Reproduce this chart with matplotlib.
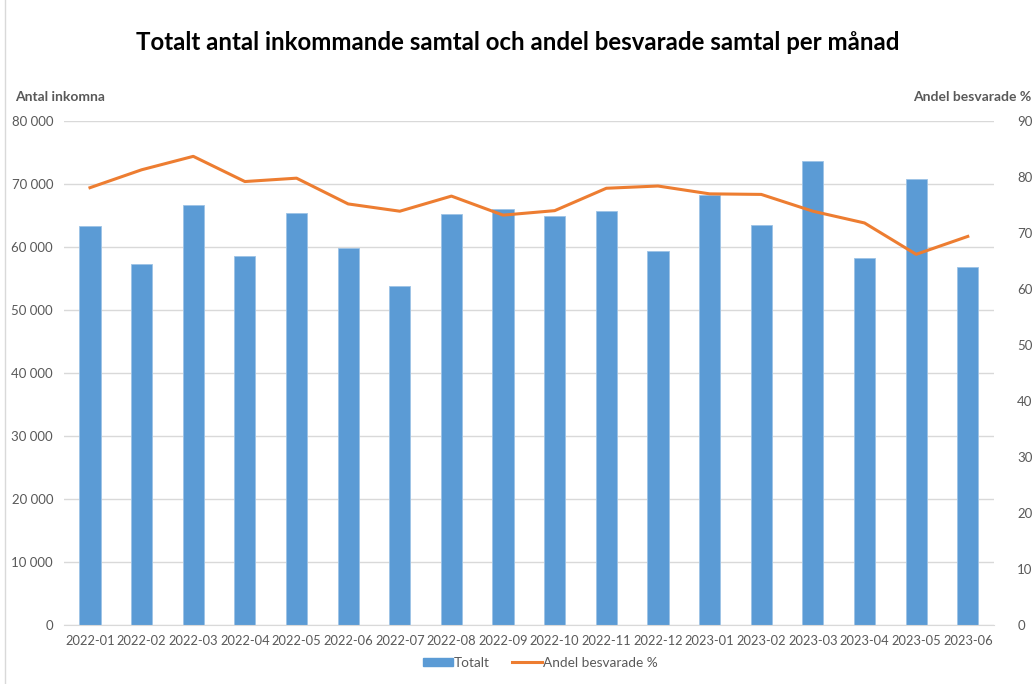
import numpy as np
import matplotlib.pyplot as plt
from matplotlib.ticker import FuncFormatter
from matplotlib.lines import Line2D

plt.rcParams['font.family'] = ['Lato', 'DejaVu Sans']

months = ['2022-01', '2022-02', '2022-03', '2022-04', '2022-05', '2022-06',
          '2022-07', '2022-08', '2022-09', '2022-10', '2022-11', '2022-12',
          '2023-01', '2023-02', '2023-03', '2023-04', '2023-05', '2023-06']
totalt = [63400, 57350, 66600, 58500, 65450, 59850, 53850, 65200, 66050,
          64950, 65700, 59400, 68300, 63450, 73600, 58200, 70800, 56800]
andel = [78.1, 81.3, 83.7, 79.2, 79.8, 75.2, 73.9, 76.6, 73.2,
         74.0, 78.0, 78.4, 77.0, 76.9, 73.9, 71.8, 66.2, 69.4]

blue = '#5B9BD5'
orange = '#ED7D31'
grey = '#595959'

fig = plt.figure(figsize=(10.35, 6.84), dpi=100)
ax = fig.add_axes([0.062, 0.0863, 0.898, 0.7367])
ax2 = ax.twinx()

x = np.arange(len(months))
ax.bar(x, totalt, width=0.41, color=blue, edgecolor='#9DC3E6', linewidth=0.6, zorder=2)
ax2.plot(x, andel, color=orange, linewidth=2.2, zorder=3)

ax.set_xlim(-0.5, len(months) - 0.5)
ax.set_ylim(0, 80000)
ax.set_yticks(np.arange(0, 80001, 10000))
ax.yaxis.set_major_formatter(FuncFormatter(lambda v, p: f'{int(v):,}'.replace(',', ' ')))
ax2.set_ylim(0, 90)
ax2.set_yticks(np.arange(0, 91, 10))

ax.grid(axis='y', color='#D9D9D9', linewidth=1, zorder=0)
ax.set_axisbelow(True)
for a in (ax, ax2):
    for s in a.spines.values():
        s.set_visible(False)
ax.spines['bottom'].set_visible(True)
ax.spines['bottom'].set_color('#D9D9D9')

ax.set_xticks(x)
ax.set_xticklabels(months)
ax.tick_params(axis='x', length=0, labelsize=9.3, labelcolor=grey, pad=7)
ax.tick_params(axis='y', length=0, labelsize=9.5, labelcolor=grey, pad=8)
ax2.tick_params(axis='y', length=0, labelsize=9.5, labelcolor=grey, pad=17)

fig.text(0.5, 0.938, 'Totalt antal inkommande samtal och andel besvarade samtal per månad',
         ha='center', va='center', fontsize=17.3, fontweight='bold', color='black')
fig.text(0.015, 0.858, 'Antal inkomna', ha='left', va='center', fontsize=10,
         fontweight='bold', color=grey)
fig.text(0.996, 0.858, 'Andel besvarade %', ha='right', va='center', fontsize=10,
         fontweight='bold', color=grey)

handles = [plt.Rectangle((0, 0), 1, 1, color=blue),
           Line2D([0], [0], color=orange, linewidth=2.2)]
fig.legend(handles, ['Totalt', 'Andel besvarade %'], loc='center', ncol=2,
           bbox_to_anchor=(0.522, 0.031), frameon=False, fontsize=9.8,
           labelcolor=grey, handlelength=2.2, handleheight=0.6,
           handletextpad=0.1, columnspacing=1.6)

fig.add_artist(Line2D([0.005, 0.005], [0, 1], color='#D9D9D9', linewidth=1,
                      transform=fig.transFigure))

fig.savefig('out.png', dpi=100)
